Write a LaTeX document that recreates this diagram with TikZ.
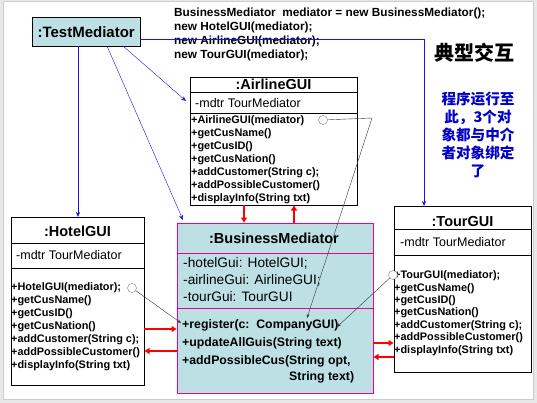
\documentclass[tikz,border=0pt]{standalone}
\usepackage{fontspec}
\setmainfont{Liberation Sans}
\newfontfamily\cjk{Noto Sans CJK SC}
\usetikzlibrary{arrows.meta,positioning}
\definecolor{boxBlue}{RGB}{189,224,228}
\definecolor{callBlue}{RGB}{20,20,235}
\definecolor{noteBlue}{RGB}{0,0,200}
\definecolor{frameGray}{RGB}{232,232,232}
\tikzset{
  umlbox/.style={draw=black, anchor=north west, inner sep=0pt},
  boxtitle/.style={inner sep=0pt, font=\bfseries\fontsize{14.5}{16}\selectfont},
  member/.style={anchor=west, inner sep=0pt, font=\fontsize{12.5}{14}\selectfont},
  method/.style={member, font=\bfseries\fontsize{10.9}{12}\selectfont},
  medattr/.style={member, font=\fontsize{13.7}{15}\selectfont},
  medop/.style={member, font=\bfseries\fontsize{12.3}{14}\selectfont},
  call/.style={draw=callBlue, -{Stealth[length=5pt,width=4pt]}},
  msg/.style={draw=red, line width=1.4pt, -{Triangle[length=5pt,width=6pt]}},
  bind/.style={draw=black!80, -{Stealth[length=4pt,width=3pt]}},
  hook/.style={draw=gray, fill=white, circle, minimum size=9pt, inner sep=0pt},
}
\begin{document}
\begin{tikzpicture}[x=1pt,y=-1pt]

  % frame
  \fill[frameGray] (0,0) rectangle (537,403);
  \draw[black!20, fill=white] (3,1) rectangle (533,399);

  % test driver
  \node[umlbox, fill=boxBlue, minimum width=108pt, minimum height=29pt,
    font=\bfseries\fontsize{15}{16}\selectfont] (test) at (32,17) {:TestMediator};

  \node[anchor=north west, inner sep=0pt, align=left,
    font=\bfseries\fontsize{11.8}{14.2}\selectfont] (code) at (174,7.5)
    {BusinessMediator\ \ mediator = new BusinessMediator();\\
     new HotelGUI(mediator);\\
     new AirlineGUI(mediator);\\
     new TourGUI(mediator);};

  \node[font=\cjk\bfseries\fontsize{20}{22}\selectfont] (head) at (474,53) {典型交互};
  \node[align=center, text=noteBlue, font=\cjk\bfseries\fontsize{14.6}{18}\selectfont]
    (note) at (478,135) {程序运行至\\此，3个对\\象都与中介\\者对象绑定\\了};

  % AirlineGUI
  \node[umlbox, minimum width=167pt, minimum height=128pt] (air) at (190,77) {};
  \draw (190,92) -- (357,92);
  \draw (190,113) -- (357,113);
  \node[boxtitle] (airT) at (273.5,84.5) {:AirlineGUI};
  \node[member] (airA) at (195,103) {-mdtr TourMediator};
  \foreach \m [count=\i] in {+AirlineGUI(mediator), +getCusName(), +getCusID(),
      +getCusNation(), +addCustomer(String c);, +addPossibleCustomer(),
      +displayInfo(String txt)}
    \node[method] (airM\i) at (191,107.5+13*\i) {\m};

  % HotelGUI
  \node[umlbox, minimum width=133pt, minimum height=168pt] (hotel) at (11,217) {};
  \draw (11,243) -- (144,243);
  \draw (11,268) -- (144,268);
  \node[boxtitle] (hotelT) at (77.5,231) {:HotelGUI};
  \node[member] (hotelA) at (16,255.5) {-mdtr TourMediator};
  \foreach \m [count=\i] in {+HotelGUI(mediator);, +getCusName(), +getCusID(),
      +getCusNation(), +addCustomer(String c);, +addPossibleCustomer(),
      +displayInfo(String txt)}
    \node[method] (hotelM\i) at (11,274.5+13*\i) {\m};

  % TourGUI
  \node[umlbox, minimum width=137pt, minimum height=166pt] (tour) at (394,206) {};
  \draw (394,229) -- (531,229);
  \draw (394,255) -- (531,255);
  \node[boxtitle] (tourT) at (462.5,222) {:TourGUI};
  \node[member] (tourA) at (400,242) {-mdtr TourMediator};
  \foreach \m [count=\i] in {+TourGUI(mediator);, +getCusName(), +getCusID(),
      +getCusNation(), +addCustomer(String c);, +addPossibleCustomer(),
      +displayInfo(String txt)}
    \node[method] (tourM\i) at (394,263.5+12.4*\i) {\m};

  % BusinessMediator
  \node[umlbox, draw=magenta, fill=boxBlue, minimum width=196pt, minimum height=170pt]
    (med) at (177,223) {};
  \draw[magenta] (177,253) -- (373,253);
  \draw[magenta] (177,308) -- (373,308);
  \node[boxtitle] (medT) at (274,238) {:BusinessMediator};
  \node[medattr] (medA1) at (183,263) {-hotelGui: HotelGUI;};
  \node[medattr] (medA2) at (183,280.5) {-airlineGui: AirlineGUI;};
  \node[medattr] (medA3) at (183,297) {-tourGui: TourGUI};
  \node[medop] (medM1) at (182,325) {+register(c:\ \ CompanyGUI)};
  \node[medop] (medM2) at (182,343) {+updateAllGuis(String text)};
  \node[medop] (medM3) at (182,361) {+addPossibleCus(String opt,};
  \node[medop] (medM4) at (289,377.5) {String text)};

  % hooks
  \node[hook] (airH) at (323,120) {};
  \node[hook] (hotelH) at (132,288) {};
  \node[hook] (tourH) at (393,275) {};
  \coordinate (airBend) at (372,118);
  \coordinate (regIn) at (307,318);
  \coordinate (regHotel) at (181,323);
  \coordinate (regTour) at (337,327);
  \draw[bind] (airH) -- (airBend) -- (regIn);
  \draw[bind] (hotelH) -- (regHotel);
  \draw[bind] (tourH) -- (regTour);

  % creation calls
  \coordinate (tourCorner) at (424,39);
  \draw[call] (test.east |- tourCorner) -- (tourCorner) -- (tourCorner |- tour.north);
  \draw[call] (78,46) -- (78,217);
  \draw[call] (107,46) -- (183,220);
  \draw[call] (123,46) -- (186,101);

  % messages
  \draw[msg] (244,205) -- (244,222.5);
  \draw[msg] (294,223) -- (294,205.5);
  \draw[msg] (144,329) -- (176.5,329);
  \draw[msg] (177,351) -- (144.5,351);
  \draw[msg] (373,343) -- (393.5,343);
  \draw[msg] (394,357) -- (373.5,357);

\end{tikzpicture}
\end{document}
